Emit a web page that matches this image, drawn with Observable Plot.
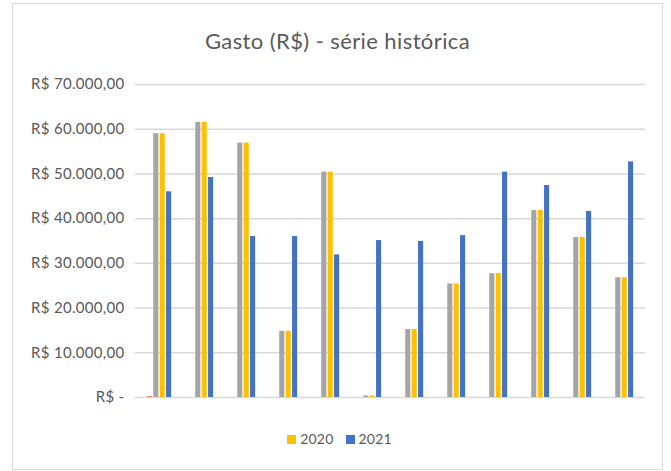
<!DOCTYPE html>
<html>
<head>
<meta charset="utf-8">
<script src="https://cdn.jsdelivr.net/npm/d3@7"></script>
<script src="https://cdn.jsdelivr.net/npm/@observablehq/plot@0.6"></script>
<style>
  html, body { margin: 0; padding: 0; background: #fff; }
  #root { position: relative; width: 671px; height: 471px; overflow: hidden; font-family: Lato, "Open Sans", sans-serif; color: #595959; }
  #frame { position: absolute; left: 12px; top: 3px; width: 651px; height: 467px; box-sizing: border-box; border: 1.5px solid #d9d9d9; }
  #title { position: absolute; left: 0; width: 671px; top: 30px; text-align: center; font-size: 22px; line-height: 22px; letter-spacing: 0.4px; padding-left: 4px; box-sizing: border-box; }
  #chart { position: absolute; left: 0; top: 60px; }
  #legend { position: absolute; left: 0; width: 671px; top: 432px; display: flex; justify-content: center; font-size: 14px; line-height: 14px; letter-spacing: 0.2px; padding-left: 8px; box-sizing: border-box; }
  .item { display: flex; align-items: center; margin: 0 6px; }
  .sw { width: 9px; height: 9px; margin-right: 4px; }
  #chart svg text { letter-spacing: 0.3px; }
</style>
</head>
<body>
<div id="root">
  <div id="frame"></div>
  <div id="title"></div>
  <div id="chart"></div>
  <div id="legend"></div>
</div>
<script>
// ---- data ----
const titulo = "Gasto (R$) - série histórica";
const meses = ["jan", "fev", "mar", "abr", "mai", "jun", "jul", "ago", "set", "out", "nov", "dez"];
const serieLaranja = [200, 0, 0, 0, 0, 0, 0, 0, 0, 0, 0, 0];
const serieCinza = [59000, 61500, 56900, 14800, 50400, 350, 15200, 25400, 27700, 41800, 35800, 26800];
const gasto2020 = [59000, 61500, 56900, 14800, 50400, 350, 15200, 25400, 27700, 41800, 35800, 26800];
const gasto2021 = [46000, 49200, 36000, 36000, 31900, 35100, 34900, 36200, 50400, 47400, 41600, 52700];
const seriesNomes = ["Série A", "Série B", "2020", "2021"];
const seriesCores = ["#ED7D31", "#A5A5A5", "#FFC000", "#4472C4"];
const legendaSeries = ["2020", "2021"];

const valores = [serieLaranja, serieCinza, gasto2020, gasto2021];
const rows = [];
seriesNomes.forEach((s, si) => meses.forEach((m, mi) => rows.push({serie: s, idx: si, mes: m, valor: valores[si][mi]})));

const loc = d3.formatLocale({decimal: ",", thousands: ".", grouping: [3], currency: ["R$ ", ""]});
const fmt = loc.format(",.2f");
const tickFormat = v => v === 0 ? "R$ -" : "R$ " + fmt(v);

const W = 671, H = 350, mL = 135, mR = 26;
const step = (W - mL - mR) / meses.length;
const pitch = 6.4, barW = 5.6;
const groupW = pitch * 3 + barW;
const off = (step - groupW) / 2;

const chart = Plot.plot({
  width: W, height: H,
  marginLeft: mL, marginRight: mR, marginTop: 24, marginBottom: 13,
  x: {domain: meses, padding: 0, axis: null},
  y: {domain: [0, 70000], ticks: 7, tickFormat, tickSize: 0, tickPadding: 11, label: null},
  style: {fontFamily: "Lato, 'Open Sans', sans-serif", fontSize: "15px", color: "#595959", background: "transparent", overflow: "visible"},
  marks: [
    Plot.ruleY(d3.range(0, 70001, 10000), {stroke: "#d9d9d9", strokeWidth: 1.5}),
    ...seriesNomes.map((s, si) => Plot.barY(rows.filter(r => r.serie === s), {
      x: "mes", y: "valor", fill: seriesCores[si],
      insetLeft: off + si * pitch,
      insetRight: step - (off + si * pitch + barW)
    }))
  ]
});
document.getElementById("chart").appendChild(chart);
document.getElementById("title").textContent = titulo;

const leg = document.getElementById("legend");
legendaSeries.forEach(s => {
  const it = document.createElement("div"); it.className = "item";
  const sw = document.createElement("div"); sw.className = "sw";
  sw.style.background = seriesCores[seriesNomes.indexOf(s)];
  const tx = document.createElement("span"); tx.textContent = s;
  it.appendChild(sw); it.appendChild(tx); leg.appendChild(it);
});
</script>
</body>
</html>
